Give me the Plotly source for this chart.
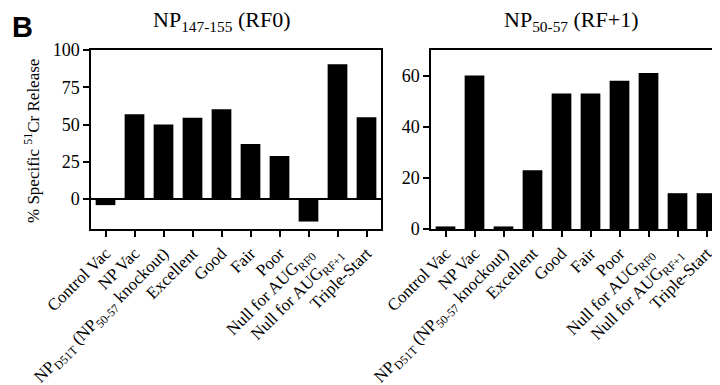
import plotly.graph_objects as go

categories = [
    "Control Vac", "NP Vac", "NP<sub>D51T</sub> (NP<sub>50-57</sub> knockout)",
    "Excellent", "Good", "Fair", "Poor",
    "Null for AUG<sub>RF0</sub>", "Null for AUG<sub>RF+1</sub>", "Triple-Start",
]
rf0_values = [-4, 57, 50, 54.5, 60.3, 37, 29, -15, 90.5, 55]
rf1_values = [1, 60, 1, 23, 53, 53, 58, 61, 14, 14]
rf0_ticks = [0, 25, 50, 75, 100]
rf1_ticks = [0, 20, 40, 60]

W, H = 720, 385
FONT = "Liberation Serif"

def fx(px):
    return px / W

def fy(py):
    return 1 - py / H

fig = go.Figure()
xs = list(range(len(categories)))
fig.add_trace(go.Bar(x=xs, y=rf0_values, marker=dict(color="black", line=dict(width=0)),
                     width=0.68, xaxis="x", yaxis="y", showlegend=False))
fig.add_trace(go.Bar(x=xs, y=rf1_values, marker=dict(color="black", line=dict(width=0)),
                     width=0.68, xaxis="x2", yaxis="y2", showlegend=False))

axis_common = dict(showline=True, linecolor="black", linewidth=1.5, mirror=True,
                   ticks="outside", ticklen=6, tickwidth=1.5, tickcolor="black",
                   showgrid=False, automargin=False)
xfont = dict(family=FONT, size=17, color="black")
yfont = dict(family=FONT, size=18, color="black")

fig.update_layout(
    width=W, height=H,
    margin=dict(l=0, r=0, t=0, b=0),
    paper_bgcolor="white", plot_bgcolor="white",
    xaxis=dict(domain=[fx(83), fx(373)], range=[-0.5, 9.5], tickvals=xs, ticktext=categories,
               tickangle=-45, anchor="y", tickfont=xfont, **axis_common),
    yaxis=dict(domain=[fy(221), fy(42)], range=[-20, 100], tickvals=rf0_ticks,
               anchor="x", zeroline=True, zerolinecolor="black", zerolinewidth=1.5,
               tickfont=yfont, **axis_common),
    xaxis2=dict(domain=[fx(423), fx(713)], range=[-0.5, 9.5], tickvals=xs, ticktext=categories,
                tickangle=-45, anchor="y2", tickfont=xfont, **axis_common),
    yaxis2=dict(domain=[fy(221), fy(42)], range=[0, 70], tickvals=rf1_ticks,
                anchor="x2", zeroline=False, tickfont=yfont, **axis_common),
    annotations=[
        dict(text="<b>B</b>", x=fx(2), y=fy(1), xref="paper", yref="paper",
             xanchor="left", yanchor="top", showarrow=False,
             font=dict(family="Liberation Sans", size=29, color="black")),
        dict(text="NP<sub>147-155</sub> (RF0)", x=fx(214), y=fy(13), xref="paper", yref="paper",
             xanchor="center", yanchor="middle", showarrow=False,
             font=dict(family=FONT, size=22, color="black")),
        dict(text="NP<sub>50-57</sub> (RF+1)", x=fx(563), y=fy(13), xref="paper", yref="paper",
             xanchor="center", yanchor="middle", showarrow=False,
             font=dict(family=FONT, size=22, color="black")),
        dict(text="% Specific <sup>51</sup>Cr Release", x=fx(24), y=fy(133), xref="paper", yref="paper",
             xanchor="center", yanchor="middle", showarrow=False, textangle=-90,
             font=dict(family=FONT, size=17, color="black")),
    ],
)

fig.write_html("out.html")
